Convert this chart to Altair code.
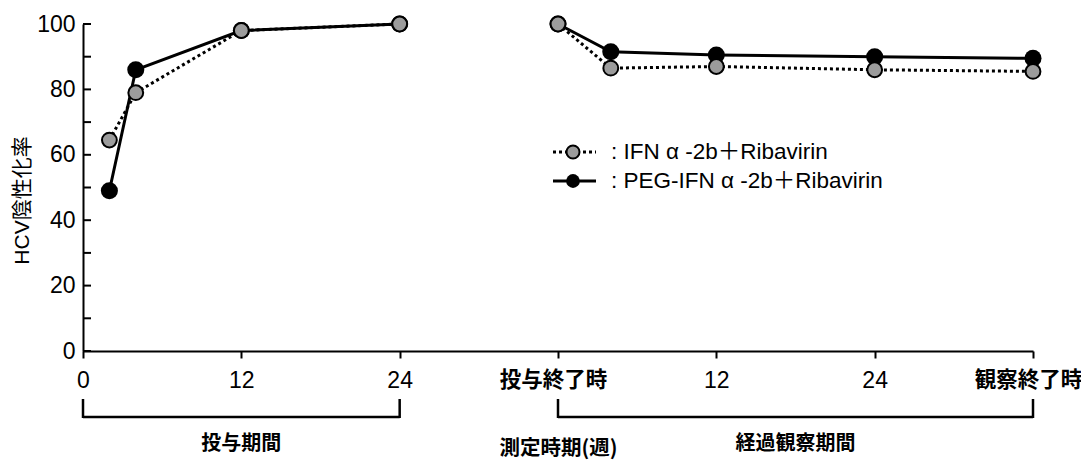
import altair as alt
import pandas as pd

# ---- data ----
treat_weeks = [2, 4, 12, 24]
ifn_treat = [64.5, 79, 98, 100]
peg_treat = [49, 86, 98, 100]

post_weeks = [0, 4, 12, 24, 36]
ifn_post = [100, 86.5, 87, 86, 85.5]
peg_post = [100, 91.5, 90.5, 90, 89.5]

post_offset = 36  # the post-treatment period starts at this x position

x_tick_values = [0, 12, 24, 36, 48, 60, 72]
x_tick_labels = ["0", "12", "24", "投与終了時", "12", "24", "観察終了時"]
y_tick_values = list(range(0, 101, 10))
y_label_values = [0, 20, 40, 60, 80, 100]

series_labels = [": IFN α -2b＋Ribavirin", ": PEG-IFN α -2b＋Ribavirin"]
period_labels = ["投与期間", "経過観察期間"]
period_starts = [0, 36]
period_ends = [24, 72]
x_title = "測定時期(週)"
y_title = "HCV陰性化率"

LATIN = "Liberation Sans, Noto Sans CJK JP"
CJK = "Noto Sans CJK JP"

rows = []
for name, tv, pv in [("IFN", ifn_treat, ifn_post), ("PEG", peg_treat, peg_post)]:
    for w, v in zip(treat_weeks, tv):
        rows.append({"series": name, "phase": "treat", "week": w, "pos": w, "value": v})
    for w, v in zip(post_weeks, pv):
        rows.append({"series": name, "phase": "post", "week": w, "pos": post_offset + w, "value": v})
df = pd.DataFrame(rows)

periods = pd.DataFrame({
    "label": period_labels,
    "start": period_starts,
    "end": period_ends,
})
periods["mid"] = (periods["start"] + periods["end"]) / 2

yt = pd.DataFrame({"v": y_tick_values})

label_expr = "''"
for v, l in reversed(list(zip(x_tick_values, x_tick_labels))):
    label_expr = f"datum.value == {v} ? '{l}' : ({label_expr})"

cjk_test = " || ".join(f"datum.value == {v}" for v, l in zip(x_tick_values, x_tick_labels) if not l.isdigit())

W, H = 950, 327

x_scale = alt.Scale(domain=[0, 72], nice=False, zero=False)
y_scale = alt.Scale(domain=[0, 100], nice=False)

x_axis = alt.Axis(
    values=x_tick_values,
    labelExpr=label_expr,
    labelOverlap=False,
    labelFlush=False,
    labelBound=False,
    labelFont=LATIN,
    labelFontSize={"condition": {"test": cjk_test, "value": 21.5}, "value": 23},
    labelFontWeight={"condition": {"test": cjk_test, "value": "bold"}, "value": "normal"},
    labelOffset={"condition": {"test": cjk_test, "value": -5}, "value": 0},
    labelColor="black",
    labelPadding=11,
    tickSize=7,
    tickWidth=2,
    tickColor="black",
    domainColor="black",
    domainWidth=2,
    grid=False,
    title=x_title,
    titleFont=CJK,
    titleFontSize=20.5,
    titleFontWeight="bold",
    titleColor="black",
    titleX=475,
    titleY=97,
    titleBaseline="middle",
    titleAlign="center",
)

y_axis = alt.Axis(
    values=y_label_values,
    ticks=False,
    tickSize=0,
    labelPadding=8,
    labelFont="Liberation Sans",
    labelFontSize=23,
    labelColor="black",
    domainColor="black",
    domainWidth=2,
    grid=False,
    title=y_title,
    titleFont=LATIN,
    titleFontSize=21,
    titleFontWeight="normal",
    titleColor="black",
    titlePadding=4,
    titleY=176,
)

base = alt.Chart(df)

peg_line = base.transform_filter("datum.series == 'PEG'").mark_line(
    color="black", strokeWidth=3
).encode(
    x=alt.X("pos:Q", scale=x_scale, axis=x_axis),
    y=alt.Y("value:Q", scale=y_scale, axis=y_axis),
    detail="phase:N",
)

ifn_line = base.transform_filter("datum.series == 'IFN'").mark_line(
    color="black", strokeWidth=3, strokeDash=[3, 3]
).encode(
    x="pos:Q",
    y="value:Q",
    detail="phase:N",
)

peg_pts = base.transform_filter("datum.series == 'PEG'").mark_circle(
    size=290, color="black", opacity=1
).encode(
    x="pos:Q",
    y="value:Q",
)

ifn_pts = base.transform_filter("datum.series == 'IFN'").mark_circle(
    size=220, fill="#9c9c9c", stroke="black", strokeWidth=2, opacity=1, fillOpacity=1
).encode(
    x="pos:Q",
    y="value:Q",
)

y_ticks = alt.Chart(yt).mark_rule(color="black", strokeWidth=2).encode(
    y="v:Q",
    x=alt.value(0),
    x2=alt.value(8),
)

pc = alt.Chart(periods)
br_h = pc.mark_rule(color="black", strokeWidth=2.5).encode(
    x="start:Q", x2="end:Q", y=alt.value(393)
)
br_l = pc.mark_rule(color="black", strokeWidth=2.5).encode(
    x="start:Q", y=alt.value(375), y2=alt.value(394)
)
br_r = pc.mark_rule(color="black", strokeWidth=2.5).encode(
    x="end:Q", y=alt.value(375), y2=alt.value(394)
)
br_t = pc.mark_text(font=CJK, fontSize=20, fontWeight="bold", color="black", baseline="middle").encode(
    x="mid:Q", y=alt.value(420), text="label:N"
)

# legend (drawn by hand to match the reference)
leg = pd.DataFrame({"label": series_labels, "series": ["IFN", "PEG"]})
lc = alt.Chart(leg)
LY1, LY2 = 128, 157
leg_ifn_line = lc.transform_filter("datum.series == 'IFN'").mark_rule(
    color="black", strokeWidth=3, strokeDash=[3, 3]
).encode(x=alt.value(470), x2=alt.value(513), y=alt.value(LY1))
leg_peg_line = lc.transform_filter("datum.series == 'PEG'").mark_rule(
    color="black", strokeWidth=3
).encode(x=alt.value(470), x2=alt.value(513), y=alt.value(LY2))
leg_ifn_pt = lc.transform_filter("datum.series == 'IFN'").mark_circle(
    size=170, fill="#9c9c9c", stroke="black", strokeWidth=2, opacity=1
).encode(x=alt.value(490), y=alt.value(LY1))
leg_peg_pt = lc.transform_filter("datum.series == 'PEG'").mark_circle(
    size=190, color="black", opacity=1
).encode(x=alt.value(490), y=alt.value(LY2))
leg_ifn_t = lc.transform_filter("datum.series == 'IFN'").mark_text(
    font=LATIN, fontSize=22.5, color="black", align="left", baseline="middle"
).encode(x=alt.value(528), y=alt.value(LY1), text="label:N")
leg_peg_t = lc.transform_filter("datum.series == 'PEG'").mark_text(
    font=LATIN, fontSize=22.5, color="black", align="left", baseline="middle"
).encode(x=alt.value(528), y=alt.value(LY2), text="label:N")

chart = alt.layer(
    peg_line, ifn_line, peg_pts, ifn_pts, y_ticks,
    br_h, br_l, br_r, br_t,
    leg_ifn_line, leg_peg_line, leg_ifn_pt, leg_peg_pt, leg_ifn_t, leg_peg_t,
).properties(
    width=W,
    height=H,
    autosize=alt.AutoSizeParams(type="none"),
    padding={"left": 75, "top": 16, "right": 48, "bottom": 112},
    background="white",
).configure_view(stroke=None)

chart.save("out.html", embed_options={"renderer": "svg", "actions": False})
